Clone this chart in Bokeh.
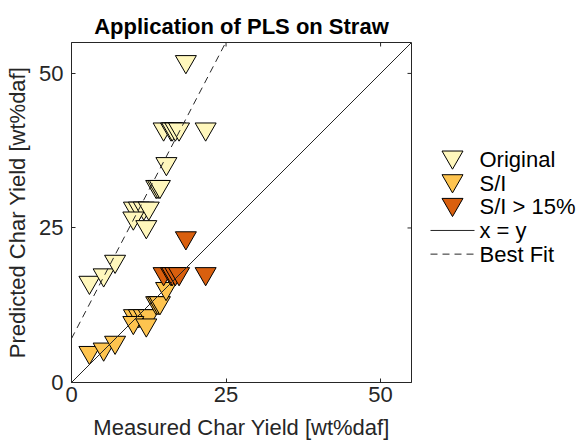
import numpy as np
from bokeh.plotting import figure
from bokeh.layouts import row
from bokeh.models import Range1d, FixedTicker
from bokeh.core.properties import value
from bokeh.embed import file_html
from bokeh.resources import INLINE

# ---- data ----
axis_limits = [0, 55]
x_ticks = [0, 25, 50]
y_ticks = [0, 25, 50]

orig_x = [2.9, 5.2, 7.05, 10.1, 10.9, 11.7, 12.5, 10.0, 12.1, 13.7, 14.0, 14.3,
          15.35, 14.9, 16.1, 16.3, 16.8, 17.4, 21.7, 18.5]
orig_y = [16.2, 17.4, 19.6, 28.2, 28.2, 28.2, 28.2, 26.6, 25.2, 31.7, 31.7, 31.7,
          35.4, 41.0, 41.0, 41.0, 41.0, 41.0, 41.0, 51.9]

si_x = [2.9, 5.2, 7.05, 10.1, 10.9, 11.7, 12.5, 10.0, 12.1, 13.7, 14.0, 14.3, 15.3]
si_y = [4.85, 5.4, 6.5, 10.8, 10.8, 10.8, 10.8, 9.7, 9.3, 12.9, 12.9, 12.9, 15.2]

hi_x = [14.9, 16.1, 16.3, 16.8, 17.4, 21.7, 18.5]
hi_y = [17.6, 17.6, 17.6, 17.6, 17.6, 17.6, 23.4]

fit_slope = 1.92
fit_intercept = 7.1

labels = ["Original", "S/I", "S/I > 15%", "x = y", "Best Fit"]
marker_colors = ["#fff7bc", "#fec44f", "#d95f0e"]

FONT = "Liberation Sans"
FS = "22px"
AX = "#262626"
FRAME_PX = 340
W, H = 583, 445
MAIN_W = 412

p = figure(width=MAIN_W, height=H, output_backend="svg", toolbar_location=None,
           x_range=Range1d(*axis_limits), y_range=Range1d(*axis_limits),
           min_border_left=71, min_border_right=1, min_border_top=42,
           min_border_bottom=63, outline_line_color=AX, outline_line_width=1,
           x_axis_label="Measured Char Yield [wt%daf]",
           y_axis_label="Predicted Char Yield [wt%daf]")
p.grid.visible = False
p.background_fill_color = "white"
p.border_fill_color = "white"

p.title.text = "Application of PLS on Straw"
p.title.align = "center"
p.title.text_font = FONT
p.title.text_font_size = FS
p.title.text_font_style = "bold"
p.title.text_color = "black"
p.title.standoff = 8

for ax in list(p.xaxis) + list(p.yaxis):
    ax.major_tick_in = 4
    ax.major_tick_out = 0
    ax.minor_tick_line_color = None
    ax.axis_line_color = AX
    ax.axis_line_width = 1
    ax.major_tick_line_color = AX
    ax.major_label_text_font = FONT
    ax.major_label_text_color = AX
    ax.major_label_text_font_size = FS
    ax.axis_label_text_font = FONT
    ax.axis_label_text_color = AX
    ax.axis_label_text_font_style = "normal"
    ax.axis_label_text_font_size = FS
for ax in p.xaxis:
    ax.ticker = FixedTicker(ticks=x_ticks)
    ax.major_label_standoff = 4
    ax.axis_label_standoff = 10
for ax in p.yaxis:
    ax.ticker = FixedTicker(ticks=y_ticks)
    ax.major_label_standoff = 8
    ax.axis_label_standoff = 6

# tick marks on the top and right edges of the box
tick_len = 4 * (axis_limits[1] - axis_limits[0]) / FRAME_PX
xt = np.array(x_ticks, dtype=float)
yt = np.array(y_ticks, dtype=float)
p.segment(x0=xt, y0=np.full_like(xt, axis_limits[1]), x1=xt,
          y1=np.full_like(xt, axis_limits[1] - tick_len), line_color=AX, line_width=1)
p.segment(x0=np.full_like(yt, axis_limits[1]), y0=yt,
          x1=np.full_like(yt, axis_limits[1] - tick_len), y1=yt, line_color=AX, line_width=1)

MS = 21
p.scatter(orig_x, orig_y, marker="inverted_triangle", size=MS,
          fill_color=marker_colors[0], line_color="black", line_width=1)
p.scatter(si_x, si_y, marker="inverted_triangle", size=MS,
          fill_color=marker_colors[1], line_color="black", line_width=1)
p.scatter(hi_x, hi_y, marker="inverted_triangle", size=MS,
          fill_color=marker_colors[2], line_color="black", line_width=1)

lx = np.array(axis_limits, dtype=float)
p.line(lx, lx, line_color=AX, line_width=1)
p.line(lx, fit_slope * lx + fit_intercept, line_color=AX,
       line_width=1, line_dash="7 5")

# ---- legend panel (pixel coordinates, y downward) ----
LW = W - MAIN_W
lg = figure(width=LW, height=H, output_backend="svg", toolbar_location=None,
            x_range=Range1d(0, LW), y_range=Range1d(H, 0),
            min_border=0, outline_line_color=None)
lg.axis.visible = False
lg.grid.visible = False
lg.background_fill_color = "white"
lg.border_fill_color = "white"

row_top, row_h = 153, 31
rows_y = [row_top + i * row_h for i in range(len(labels))]
glyph_x0, glyph_x1 = 18, 62
glyph_xc = (glyph_x0 + glyph_x1) / 2
text_x = 67
tri_offset = MS * np.sqrt(3) / 2 / 6

lg.scatter([glyph_xc] * 3, [y - tri_offset for y in rows_y[:3]],
           marker="inverted_triangle", size=MS, fill_color=marker_colors,
           line_color="black", line_width=1)
lg.line([glyph_x0, glyph_x1], [rows_y[3]] * 2, line_color=AX, line_width=1)
lg.line([glyph_x0, glyph_x1], [rows_y[4]] * 2, line_color=AX, line_width=1,
        line_dash="7 5")
lg.text([text_x] * len(labels), rows_y, text=labels, text_font=value(FONT),
        text_font_size=FS, text_baseline="middle", text_align="left",
        text_color="black")

layout = row(p, lg, spacing=0)
open("out.html", "w").write(file_html(layout, INLINE))
